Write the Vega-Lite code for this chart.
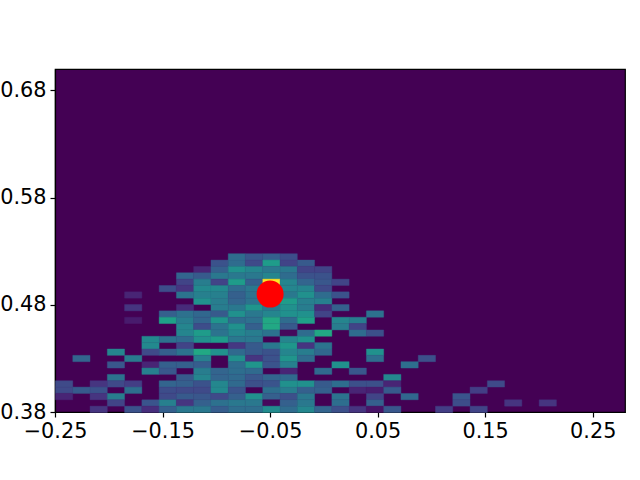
{"$schema":"https://vega.github.io/schema/vega-lite/v6.json","width":570,"height":343,"autosize":{"type":"none"},"padding":{"left":55,"top":69,"right":15,"bottom":68},"background":"white","view":{"fill":"#440154","stroke":"black","strokeWidth":1.2},"config":{"axis":{"grid":false,"title":null,"zindex":1,"labelFont":"DejaVu Sans","labelFontSize":20.8,"labelColor":"black","tickColor":"black","domainColor":"black","tickSize":5,"tickWidth":1.2,"domainWidth":1.2,"labelOverlap":false,"labelFlush":false,"format":".2f"}},"layer":[{"data":{"values":[
{"x":-0.081,"y":0.525,"v":3.5},{"x":-0.065,"y":0.525,"v":2.7},{"x":-0.049,"y":0.525,"v":3},{"x":-0.033,"y":0.525,"v":2.3},
{"x":-0.097,"y":0.519,"v":2.5},{"x":-0.081,"y":0.519,"v":3.5},{"x":-0.065,"y":0.519,"v":2.2},{"x":-0.049,"y":0.519,"v":5.5},{"x":-0.033,"y":0.519,"v":2},{"x":-0.017,"y":0.519,"v":2.8},
{"x":-0.113,"y":0.513,"v":1},{"x":-0.097,"y":0.513,"v":3},{"x":-0.081,"y":0.513,"v":5},{"x":-0.065,"y":0.513,"v":4.5},{"x":-0.049,"y":0.513,"v":4},{"x":-0.033,"y":0.513,"v":4},{"x":-0.017,"y":0.513,"v":2},{"x":-0.001,"y":0.513,"v":2},
{"x":-0.13,"y":0.507,"v":3.2},{"x":-0.113,"y":0.507,"v":2.8},{"x":-0.097,"y":0.507,"v":4},{"x":-0.081,"y":0.507,"v":4},{"x":-0.065,"y":0.507,"v":4},{"x":-0.049,"y":0.507,"v":4.5},{"x":-0.033,"y":0.507,"v":3.5},{"x":-0.017,"y":0.507,"v":2.5},{"x":-0.001,"y":0.507,"v":2.5},
{"x":-0.13,"y":0.502,"v":2},{"x":-0.113,"y":0.502,"v":4.2},{"x":-0.097,"y":0.502,"v":2},{"x":-0.081,"y":0.502,"v":5.5},{"x":-0.065,"y":0.502,"v":3},{"x":-0.049,"y":0.502,"v":10},{"x":-0.033,"y":0.502,"v":4.5},{"x":-0.017,"y":0.502,"v":3.2},{"x":-0.001,"y":0.502,"v":2.7},{"x":0.015,"y":0.502,"v":2},
{"x":-0.146,"y":0.496,"v":2.3},{"x":-0.13,"y":0.496,"v":1.5},{"x":-0.113,"y":0.496,"v":4.7},{"x":-0.097,"y":0.496,"v":4.7},{"x":-0.081,"y":0.496,"v":3.5},{"x":-0.065,"y":0.496,"v":4},{"x":-0.049,"y":0.496,"v":4},{"x":-0.033,"y":0.496,"v":4.5},{"x":-0.017,"y":0.496,"v":4.5},{"x":-0.001,"y":0.496,"v":2.2},
{"x":-0.178,"y":0.49,"v":1},{"x":-0.13,"y":0.49,"v":3.8},{"x":-0.113,"y":0.49,"v":4.3},{"x":-0.097,"y":0.49,"v":4.3},{"x":-0.081,"y":0.49,"v":3},{"x":-0.065,"y":0.49,"v":3.8},{"x":-0.049,"y":0.49,"v":4},{"x":-0.033,"y":0.49,"v":4},{"x":-0.017,"y":0.49,"v":5},{"x":-0.001,"y":0.49,"v":3.5},{"x":0.015,"y":0.49,"v":2.5},
{"x":-0.113,"y":0.484,"v":5},{"x":-0.097,"y":0.484,"v":4.2},{"x":-0.081,"y":0.484,"v":3.2},{"x":-0.065,"y":0.484,"v":3.8},{"x":-0.049,"y":0.484,"v":4},{"x":-0.033,"y":0.484,"v":5.5},{"x":-0.017,"y":0.484,"v":4.3},{"x":-0.001,"y":0.484,"v":4.3},
{"x":-0.178,"y":0.478,"v":1.5},{"x":-0.13,"y":0.478,"v":1.2},{"x":-0.097,"y":0.478,"v":4.2},{"x":-0.081,"y":0.478,"v":4},{"x":-0.065,"y":0.478,"v":5.2},{"x":-0.049,"y":0.478,"v":4},{"x":-0.033,"y":0.478,"v":5},{"x":-0.017,"y":0.478,"v":4.2},{"x":-0.001,"y":0.478,"v":1.2},{"x":0.015,"y":0.478,"v":3},
{"x":-0.146,"y":0.472,"v":3},{"x":-0.13,"y":0.472,"v":3.7},{"x":-0.113,"y":0.472,"v":3.3},{"x":-0.097,"y":0.472,"v":2.8},{"x":-0.081,"y":0.472,"v":5},{"x":-0.065,"y":0.472,"v":4},{"x":-0.049,"y":0.472,"v":4.5},{"x":-0.033,"y":0.472,"v":5},{"x":-0.017,"y":0.472,"v":5},{"x":-0.001,"y":0.472,"v":2},{"x":0.047,"y":0.472,"v":3.7},
{"x":-0.178,"y":0.466,"v":0.7},{"x":-0.146,"y":0.466,"v":5.7},{"x":-0.13,"y":0.466,"v":4.2},{"x":-0.113,"y":0.466,"v":3.2},{"x":-0.097,"y":0.466,"v":5.2},{"x":-0.081,"y":0.466,"v":3.5},{"x":-0.065,"y":0.466,"v":3.7},{"x":-0.049,"y":0.466,"v":6},{"x":-0.033,"y":0.466,"v":3.5},{"x":-0.017,"y":0.466,"v":5.7},{"x":0.015,"y":0.466,"v":4.5},{"x":0.031,"y":0.466,"v":4.2},
{"x":-0.13,"y":0.46,"v":4.5},{"x":-0.113,"y":0.46,"v":2.3},{"x":-0.097,"y":0.46,"v":3.8},{"x":-0.081,"y":0.46,"v":5},{"x":-0.065,"y":0.46,"v":3},{"x":-0.049,"y":0.46,"v":6},{"x":-0.033,"y":0.46,"v":2.8},{"x":0.015,"y":0.46,"v":4.2},{"x":0.031,"y":0.46,"v":2},
{"x":-0.13,"y":0.454,"v":4.5},{"x":-0.113,"y":0.454,"v":5.5},{"x":-0.097,"y":0.454,"v":3.8},{"x":-0.081,"y":0.454,"v":4.6},{"x":-0.065,"y":0.454,"v":4.2},{"x":-0.049,"y":0.454,"v":3.8},{"x":-0.033,"y":0.454,"v":0.2},{"x":-0.017,"y":0.454,"v":3.5},{"x":-0.001,"y":0.454,"v":6},{"x":0.031,"y":0.454,"v":3.5},{"x":0.047,"y":0.454,"v":2.4},
{"x":-0.162,"y":0.448,"v":4.7},{"x":-0.146,"y":0.448,"v":3.7},{"x":-0.13,"y":0.448,"v":3.5},{"x":-0.113,"y":0.448,"v":5},{"x":-0.097,"y":0.448,"v":5.5},{"x":-0.081,"y":0.448,"v":4},{"x":-0.065,"y":0.448,"v":4},{"x":-0.033,"y":0.448,"v":4.5},{"x":-0.017,"y":0.448,"v":5},
{"x":-0.162,"y":0.442,"v":4.7},{"x":-0.13,"y":0.442,"v":2},{"x":-0.081,"y":0.442,"v":1.6},{"x":-0.065,"y":0.442,"v":2.8},{"x":-0.049,"y":0.442,"v":4},{"x":-0.033,"y":0.442,"v":5.3},{"x":-0.017,"y":0.442,"v":1.5},{"x":-0.001,"y":0.442,"v":3.8},
{"x":-0.194,"y":0.436,"v":4.5},{"x":-0.162,"y":0.436,"v":2.2},{"x":-0.146,"y":0.436,"v":3},{"x":-0.13,"y":0.436,"v":3.8},{"x":-0.113,"y":0.436,"v":6},{"x":-0.097,"y":0.436,"v":5},{"x":-0.081,"y":0.436,"v":3.4},{"x":-0.065,"y":0.436,"v":2.8},{"x":-0.049,"y":0.436,"v":2.5},{"x":-0.033,"y":0.436,"v":4.5},{"x":-0.017,"y":0.436,"v":4.2},{"x":-0.001,"y":0.436,"v":3.3},{"x":0.047,"y":0.436,"v":5},
{"x":-0.226,"y":0.43,"v":3.2},{"x":-0.178,"y":0.43,"v":4.1},{"x":-0.113,"y":0.43,"v":4.3},{"x":-0.081,"y":0.43,"v":5},{"x":-0.065,"y":0.43,"v":1.5},{"x":-0.049,"y":0.43,"v":2.5},{"x":-0.033,"y":0.43,"v":5.2},{"x":-0.017,"y":0.43,"v":3.5},{"x":0.047,"y":0.43,"v":3.6},{"x":0.095,"y":0.43,"v":2.4},
{"x":-0.194,"y":0.424,"v":2.7},{"x":-0.162,"y":0.424,"v":1},{"x":-0.146,"y":0.424,"v":3},{"x":-0.13,"y":0.424,"v":3},{"x":-0.113,"y":0.424,"v":2.9},{"x":-0.081,"y":0.424,"v":3.6},{"x":-0.065,"y":0.424,"v":5.2},{"x":-0.049,"y":0.424,"v":2.6},{"x":-0.033,"y":0.424,"v":4.3},{"x":0.015,"y":0.424,"v":5},{"x":0.079,"y":0.424,"v":3.6},
{"x":-0.162,"y":0.419,"v":4.3},{"x":-0.146,"y":0.419,"v":2.7},{"x":-0.113,"y":0.419,"v":4.2},{"x":-0.097,"y":0.419,"v":3.2},{"x":-0.081,"y":0.419,"v":3.6},{"x":-0.065,"y":0.419,"v":3.4},{"x":-0.033,"y":0.419,"v":1},{"x":-0.001,"y":0.419,"v":3.4},{"x":0.031,"y":0.419,"v":2.7},
{"x":-0.194,"y":0.413,"v":3.8},{"x":-0.13,"y":0.413,"v":2.8},{"x":-0.113,"y":0.413,"v":4.5},{"x":-0.097,"y":0.413,"v":3.2},{"x":-0.081,"y":0.413,"v":3.4},{"x":-0.065,"y":0.413,"v":2.7},{"x":-0.049,"y":0.413,"v":3.2},{"x":-0.033,"y":0.413,"v":3.4},{"x":0.063,"y":0.413,"v":4.6},
{"x":-0.242,"y":0.407,"v":2.2},{"x":-0.21,"y":0.407,"v":1.5},{"x":-0.194,"y":0.407,"v":2.2},{"x":-0.178,"y":0.407,"v":1.8},{"x":-0.146,"y":0.407,"v":3.2},{"x":-0.13,"y":0.407,"v":3},{"x":-0.113,"y":0.407,"v":2.5},{"x":-0.097,"y":0.407,"v":4.6},{"x":-0.081,"y":0.407,"v":3.4},{"x":-0.065,"y":0.407,"v":2.4},{"x":-0.049,"y":0.407,"v":2.6},{"x":-0.033,"y":0.407,"v":5},{"x":-0.017,"y":0.407,"v":5},{"x":-0.001,"y":0.407,"v":2.8},{"x":0.015,"y":0.407,"v":3.6},{"x":0.031,"y":0.407,"v":2.4},{"x":0.047,"y":0.407,"v":2.4},{"x":0.063,"y":0.407,"v":1},{"x":0.16,"y":0.407,"v":2.2},
{"x":-0.242,"y":0.401,"v":2.2},{"x":-0.226,"y":0.401,"v":2.8},{"x":-0.21,"y":0.401,"v":2.5},{"x":-0.178,"y":0.401,"v":3.6},{"x":-0.146,"y":0.401,"v":2.3},{"x":-0.13,"y":0.401,"v":2.2},{"x":-0.113,"y":0.401,"v":2.2},{"x":-0.097,"y":0.401,"v":4.7},{"x":-0.081,"y":0.401,"v":2.6},{"x":-0.049,"y":0.401,"v":3.6},{"x":-0.033,"y":0.401,"v":4.2},{"x":-0.017,"y":0.401,"v":3},{"x":-0.001,"y":0.401,"v":3},{"x":0.031,"y":0.401,"v":1},{"x":0.047,"y":0.401,"v":0.8},{"x":0.063,"y":0.401,"v":2.8},{"x":0.144,"y":0.401,"v":1.8},
{"x":-0.242,"y":0.395,"v":1},{"x":-0.21,"y":0.395,"v":1.5},{"x":-0.194,"y":0.395,"v":4.2},{"x":-0.146,"y":0.395,"v":2.2},{"x":-0.13,"y":0.395,"v":2.8},{"x":-0.113,"y":0.395,"v":2.7},{"x":-0.097,"y":0.395,"v":2.2},{"x":-0.081,"y":0.395,"v":3},{"x":-0.065,"y":0.395,"v":5},{"x":-0.049,"y":0.395,"v":3},{"x":-0.033,"y":0.395,"v":2.4},{"x":-0.017,"y":0.395,"v":4},{"x":0.015,"y":0.395,"v":3.8},{"x":0.047,"y":0.395,"v":2},{"x":0.079,"y":0.395,"v":3.3},{"x":0.127,"y":0.395,"v":2.6},
{"x":-0.194,"y":0.389,"v":2},{"x":-0.162,"y":0.389,"v":2.6},{"x":-0.146,"y":0.389,"v":4.3},{"x":-0.13,"y":0.389,"v":1.5},{"x":-0.113,"y":0.389,"v":3},{"x":-0.097,"y":0.389,"v":3.7},{"x":-0.081,"y":0.389,"v":4},{"x":-0.065,"y":0.389,"v":4},{"x":-0.049,"y":0.389,"v":0.2},{"x":-0.033,"y":0.389,"v":3},{"x":-0.017,"y":0.389,"v":4},{"x":0.015,"y":0.389,"v":3.6},{"x":0.047,"y":0.389,"v":3},{"x":0.127,"y":0.389,"v":2.3},{"x":0.176,"y":0.389,"v":1.5},{"x":0.208,"y":0.389,"v":1.5},
{"x":-0.21,"y":0.383,"v":1.5},{"x":-0.178,"y":0.383,"v":2.5},{"x":-0.162,"y":0.383,"v":1.3},{"x":-0.146,"y":0.383,"v":3},{"x":-0.13,"y":0.383,"v":4},{"x":-0.113,"y":0.383,"v":4},{"x":-0.097,"y":0.383,"v":2.9},{"x":-0.081,"y":0.383,"v":3.6},{"x":-0.065,"y":0.383,"v":3.6},{"x":-0.049,"y":0.383,"v":4.8},{"x":-0.033,"y":0.383,"v":3.5},{"x":-0.017,"y":0.383,"v":4.6},{"x":-0.001,"y":0.383,"v":3.2},{"x":0.015,"y":0.383,"v":2.4},{"x":0.031,"y":0.383,"v":1.5},{"x":0.047,"y":0.383,"v":0.5},{"x":0.063,"y":0.383,"v":2.7},{"x":0.111,"y":0.383,"v":1.8},{"x":0.144,"y":0.383,"v":2}
]},"mark":{"type":"rect","strokeWidth":0.4,"opacity":1},"encoding":{"x":{"field":"x","type":"quantitative","bin":{"extent":[-0.25,0.28],"step":0.0160606,"nice":false},"scale":{"domain":[-0.25,0.28],"nice":false,"zero":false},"axis":{"values":[-0.25,-0.15,-0.05,0.05,0.15,0.25],"format":".2f","labelPadding":4}},"y":{"field":"y","type":"quantitative","bin":{"extent":[0.38,0.7],"step":0.0059259,"nice":false},"scale":{"domain":[0.38,0.7],"nice":false,"zero":false},"axis":{"values":[0.38,0.48,0.58,0.68],"format":".2f","labelPadding":4}},"color":{"field":"v","type":"quantitative","scale":{"scheme":"viridis","domain":[0,10]},"legend":null},"stroke":{"field":"v","type":"quantitative","scale":{"scheme":"viridis","domain":[0,10]},"legend":null}}},
{"data":{"values":[{"x":-0.05,"y":0.49}]},"mark":{"type":"point","filled":true,"opacity":1,"color":"#ff0000","size":729},"encoding":{"x":{"field":"x","type":"quantitative"},"y":{"field":"y","type":"quantitative"}}}]}
